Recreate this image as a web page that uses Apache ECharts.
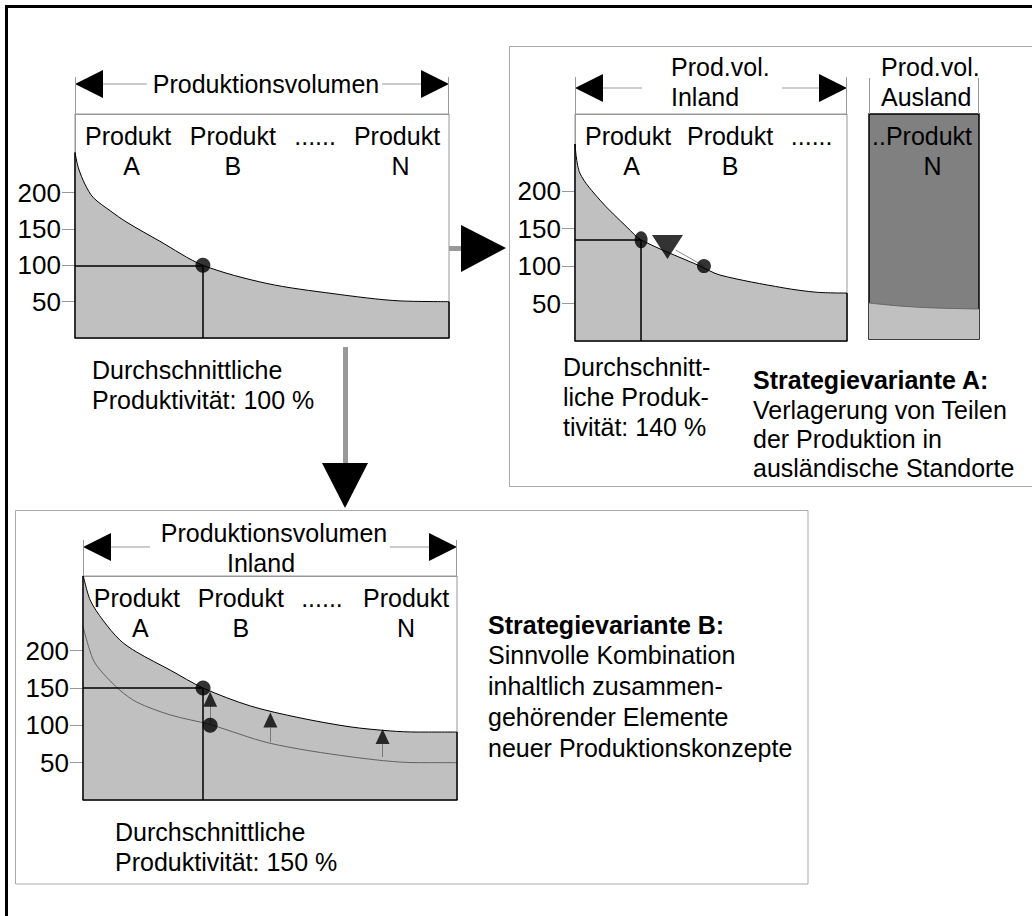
<!DOCTYPE html>
<html>
<head>
<meta charset="utf-8">
<script src="https://cdn.jsdelivr.net/npm/echarts@6/dist/echarts.min.js"></script>
<style>
html,body{margin:0;padding:0;background:#fff}
#chart{width:1032px;height:916px}
</style>
</head>
<body>
<div id="chart"></div>
<script>
// x = share of the production volume (0..100), y = productivity
var yTicks = [50, 100, 150, 200];

// chart 1: today
var c1X = [0, 0.9, 2.7, 4.9, 9.4, 13.9, 22.7, 34.2, 51.3, 69, 86.9, 100];
var c1Y = [255, 234, 211, 193, 175, 159, 133, 100, 75, 61, 51, 50];
var c1Point = [34.2, 100];

// chart 2: variant A, inland part + ausland bar
var c2X = [0, 1.8, 9.2, 19.1, 24.3, 46, 53.3, 76.5, 89, 100];
var c2Y = [263, 224, 188, 152, 135, 100, 88, 71, 65, 64];
var c2Points = [[24.3, 135], [47.4, 100]];
var c2Shift = [34, 125.5];
var auslandX = [0, 28, 58, 100];
var auslandY = [48, 44, 41.5, 40];

// chart 3: variant B, new curve (upper) and old curve (lower)
var c3X = [0, 1.9, 5.3, 9.9, 14.4, 23.3, 32.1, 44.7, 58, 71.4, 82.1, 89.3, 100];
var c3Y = [302, 268, 241, 214, 198, 174, 150, 126, 110, 98, 92.5, 91, 91];
var c3OldX = [0, 2.7, 5.3, 9.9, 14.4, 23.3, 34, 50, 71.4, 89.3, 100];
var c3OldY = [232, 188, 170, 147, 131, 114, 101, 76, 58, 50, 50];
var c3Points = [[32.1, 150], [34, 100]];
var c3ArrowX = [34, 50.1, 80.1];
var c3ArrowFrom = [101, 77.5, 57.5];
var c3ArrowTo = [127, 96.5, 75];
var c3ArrowHead = [135, 107, 85];

// product labels along the top of each chart
var prod1Pos = [14.2, 42.2, 64.2, 86.1];
var prod1Lab = ['Produkt\n\u00a0A', 'Produkt\nB', '......', 'Produkt\n\u00a0N'];
var prod2Pos = [19.5, 57, 87];
var prod2Lab = ['Produkt\n\u00a0A', 'Produkt\nB', '......'];
var prodAPos = [48.2];
var prodALab = ['..Produkt\n\u00a0\u00a0\u00a0N'];
var prod3Pos = [14.4, 42.2, 63.9, 86.4];
var prod3Lab = ['Produkt\n\u00a0A', 'Produkt\nB', '......', 'Produkt\nN'];

var FONT = "'Liberation Sans', Arial, sans-serif";
var GRAY = '#c0c0c0';
var LINE = '#999';

function zip(xs, ys) {
    return xs.map(function (x, i) { return [x, ys[i]]; });
}
function seg(a, b) {
    return [{ coord: a }, { coord: b }];
}

var grids = [
    { left: 75, top: 114, width: 374, height: 224, show: true, borderColor: LINE, borderWidth: 1 },
    { left: 575, top: 114, width: 272, height: 227, show: true, borderColor: LINE, borderWidth: 1 },
    { left: 869, top: 114, width: 110, height: 225, show: true, backgroundColor: '#808080', borderColor: '#000', borderWidth: 1.5 },
    { left: 83, top: 576, width: 374, height: 224, show: true, borderColor: LINE, borderWidth: 1 }
];
grids.forEach(function (g) { g.containLabel = false; g.outerBoundsMode = 'none'; });
var yMax = [308, 303, 300, 300];
var prodPos = [prod1Pos, prod2Pos, prodAPos, prod3Pos];
var prodLab = [prod1Lab, prod2Lab, prodALab, prod3Lab];

var xAxes = [], yAxes = [];
grids.forEach(function (g, i) {
    xAxes.push({
        type: 'value', gridIndex: i, min: 0, max: 100, position: 'bottom', z: 10,
        axisLine: { show: i !== 2, lineStyle: { color: '#000', width: 1.5 } },
        axisTick: { show: false }, axisLabel: { show: false }, splitLine: { show: false }
    });
    var pos = prodPos[i], lab = prodLab[i];
    xAxes.push({
        type: 'value', gridIndex: i, min: 0, max: 100, position: 'top',
        axisLine: { show: i !== 2, lineStyle: { color: LINE, width: 1 } },
        axisTick: { show: false }, splitLine: { show: false },
        axisLabel: {
            show: true, inside: true, customValues: pos, margin: 7,
            fontFamily: FONT, fontSize: 25, lineHeight: 30, color: '#000',
            formatter: function (v) { return lab[pos.indexOf(v)] || ''; }
        }
    });
    yAxes.push({
        type: 'value', gridIndex: i, min: 0, max: yMax[i], show: i !== 2,
        axisLine: { show: true, lineStyle: { color: LINE, width: 1 } },
        axisTick: { show: true, customValues: yTicks, length: 13, lineStyle: { color: LINE } },
        axisLabel: { customValues: yTicks, margin: 14, fontFamily: FONT, fontSize: 26, color: '#000' },
        splitLine: { show: false }
    });
});

var blackMark = {
    silent: true, symbol: ['none', 'none'], label: { show: false },
    lineStyle: { color: '#000', width: 1.5, type: 'solid' }, emphasis: { disabled: true }
};
function marks(data) { return Object.assign({}, blackMark, { data: data }); }
var SMOOTH = 0.3;

var series = [
    // chart 1
    {
        type: 'line', xAxisIndex: 0, yAxisIndex: 0, data: zip(c1X, c1Y), smooth: SMOOTH,
        symbol: 'none', lineStyle: { color: '#000', width: 1 }, areaStyle: { color: GRAY, opacity: 1 },
        markLine: marks([
            seg([0, 0], [0, c1Y[0]]), seg([100, 0], [100, c1Y[c1Y.length - 1]]),
            seg([0, c1Point[1]], c1Point), seg(c1Point, [c1Point[0], 0])
        ])
    },
    { type: 'scatter', xAxisIndex: 0, yAxisIndex: 0, data: [c1Point], symbolSize: 15, itemStyle: { color: '#000' }, z: 5 },
    // chart 2
    {
        type: 'line', xAxisIndex: 2, yAxisIndex: 1, data: zip(c2X, c2Y), smooth: SMOOTH,
        symbol: 'none', lineStyle: { color: '#000', width: 1 }, areaStyle: { color: GRAY, opacity: 1 },
        markLine: marks([
            seg([0, 0], [0, c2Y[0]]), seg([100, 0], [100, c2Y[c2Y.length - 1]]),
            seg([0, c2Points[0][1]], c2Points[0]), seg(c2Points[0], [c2Points[0][0], 0])
        ])
    },
    {
        type: 'scatter', xAxisIndex: 2, yAxisIndex: 1, itemStyle: { color: '#000' }, z: 5,
        data: [{ value: c2Points[0], symbolSize: [13, 17] }, { value: c2Points[1], symbolSize: 14 }]
    },
    {
        type: 'scatter', xAxisIndex: 2, yAxisIndex: 1, data: [c2Shift], symbol: 'triangle', symbolRotate: 180,
        symbolSize: [31, 24], itemStyle: { color: '#000' }, z: 6,
        markLine: Object.assign({}, blackMark, {
            lineStyle: { color: '#888', width: 1, type: 'solid' },
            data: [seg(c2Points[1], [c2Shift[0] + 3, c2Shift[1] - 4])]
        })
    },
    // ausland bar
    {
        type: 'line', xAxisIndex: 4, yAxisIndex: 2, data: zip(auslandX, auslandY), smooth: SMOOTH,
        symbol: 'none', lineStyle: { color: '#666', width: 1 }, areaStyle: { color: GRAY, opacity: 1 }
    },
    // chart 3
    {
        type: 'line', xAxisIndex: 6, yAxisIndex: 3, data: zip(c3X, c3Y), smooth: SMOOTH,
        symbol: 'none', lineStyle: { color: '#000', width: 1 }, areaStyle: { color: GRAY, opacity: 1 },
        markLine: marks([
            seg([0, 0], [0, 300]), seg([100, 0], [100, c3Y[c3Y.length - 1]]),
            seg([0, c3Points[0][1]], c3Points[0]), seg(c3Points[0], [c3Points[0][0], 0])
        ])
    },
    {
        type: 'line', xAxisIndex: 6, yAxisIndex: 3, data: zip(c3OldX, c3OldY), smooth: SMOOTH,
        symbol: 'none', lineStyle: { color: '#606060', width: 1 }, z: 3
    },
    { type: 'scatter', xAxisIndex: 6, yAxisIndex: 3, data: c3Points, symbolSize: 15, itemStyle: { color: '#000' }, z: 5 },
    {
        type: 'scatter', xAxisIndex: 6, yAxisIndex: 3, data: zip(c3ArrowX, c3ArrowHead), symbol: 'triangle',
        symbolSize: [14, 15], itemStyle: { color: '#000' }, z: 6,
        markLine: Object.assign({}, blackMark, {
            lineStyle: { color: '#777', width: 1, type: 'solid' },
            data: c3ArrowX.map(function (x, i) { return seg([x, c3ArrowFrom[i]], [x, c3ArrowTo[i]]); })
        })
    }
];

// frames, headers, connecting arrows and notes
function txt(s, x, y, align, bold) {
    return { type: 'text', silent: true, z: 100, style: {
        text: s, x: x, y: y, fill: '#000', textAlign: align || 'left', textVerticalAlign: 'middle',
        font: (bold ? 'bold ' : '') + '25px ' + FONT } };
}
function tri(p) { return { type: 'polygon', silent: true, z: 100, shape: { points: p }, style: { fill: '#000' } }; }
function ln(x1, y1, x2, y2, c, w) {
    return { type: 'line', silent: true, z: 100, shape: { x1: x1, y1: y1, x2: x2, y2: y2 }, style: { stroke: c || LINE, lineWidth: w || 1 } };
}
function box(x, y, w, h, c, lw) {
    return { type: 'rect', silent: true, z: 90, shape: { x: x, y: y, width: w, height: h }, style: { fill: 'none', stroke: c, lineWidth: lw } };
}
function header(l, r, y, top, bottom, gapL, gapR) {
    return [
        tri([[l, y], [l + 28, y - 14], [l + 28, y + 14]]), tri([[r, y], [r - 28, y - 14], [r - 28, y + 14]]),
        ln(l + 28, y, gapL, y), ln(gapR, y, r - 28, y), ln(l + 0.5, top, l + 0.5, bottom), ln(r - 0.5, top, r - 0.5, bottom)
    ];
}

var graphics = [
    box(6.5, 6.5, 1100, 1000, '#000', 3),
    box(509.5, 46.5, 600, 440, '#aaa', 1),
    box(15.5, 510.5, 792.5, 373.5, '#aaa', 1),
    { type: 'rect', silent: true, z: 100, shape: { x: 449, y: 246, width: 12, height: 5 }, style: { fill: '#999' } },
    tri([[461, 225], [506, 248], [461, 272]]),
    { type: 'rect', silent: true, z: 100, shape: { x: 343, y: 347, width: 5, height: 116 }, style: { fill: '#999' } },
    tri([[322, 463], [368, 463], [345, 508]]),
    txt('Produktionsvolumen', 266, 84, 'center'),
    txt('Prod.vol.', 671, 67), txt('Inland', 671, 97),
    txt('Prod.vol.', 881, 67), txt('Ausland', 881, 97),
    ln(869.5, 78, 869.5, 114), ln(978.5, 78, 978.5, 114),
    txt('Produktionsvolumen', 274, 533, 'center'), txt('Inland', 261, 563, 'center'),
    txt('Durchschnittliche', 92, 370), txt('Produktivität: 100 %', 92, 400),
    txt('Durchschnitt-', 563, 367), txt('liche Produk-', 563, 397), txt('tivität: 140 %', 563, 427),
    txt('Strategievariante A:', 753, 380, 'left', true),
    txt('Verlagerung von Teilen', 753, 410), txt('der Produktion in', 753, 439), txt('ausländische Standorte', 753, 468),
    txt('Strategievariante B:', 488, 625, 'left', true),
    txt('Sinnvolle Kombination', 488, 655), txt('inhaltlich zusammen-', 488, 686),
    txt('gehörender Elemente', 488, 717), txt('neuer Produktionskonzepte', 488, 748),
    txt('Durchschnittliche', 115, 832), txt('Produktivität: 150 %', 115, 862)
].concat(header(75, 449, 84, 77, 114, 147, 382))
 .concat(header(575, 847, 88, 77, 114, 642, 782))
 .concat(header(83, 457, 547, 540, 576, 150, 390));

var chart = echarts.init(document.getElementById('chart'), null, { renderer: 'svg' });
chart.setOption({
    animation: false,
    backgroundColor: '#fff',
    textStyle: { fontFamily: FONT },
    grid: grids,
    xAxis: xAxes,
    yAxis: yAxes,
    series: series,
    graphic: graphics
});
</script>
</body>
</html>
